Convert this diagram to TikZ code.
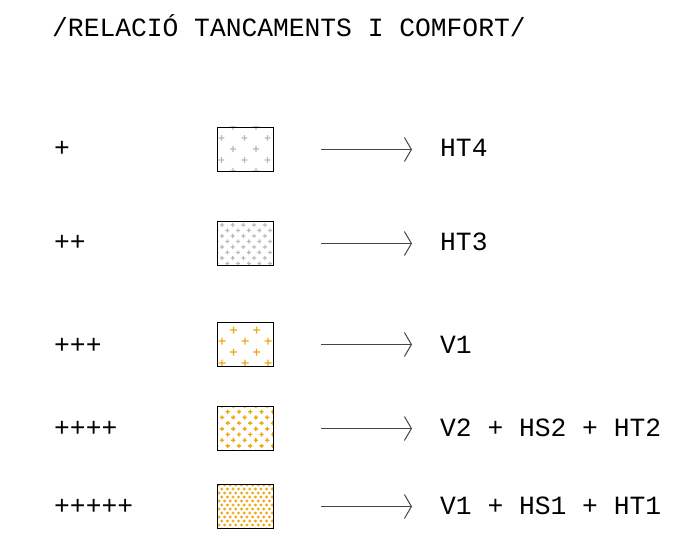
\documentclass[tikz,border=0pt]{standalone}
\usepackage{fontspec}
\setmainfont{Liberation Mono}
\usetikzlibrary{arrows.meta}
\definecolor{orng}{RGB}{236,168,20}
\definecolor{lgrey}{RGB}{185,185,185}
\definecolor{arrgrey}{RGB}{70,70,70}
\newcommand\crossfill[9]{% #1 left, #2 top, #3 colour, #4 dx, #5 dy, #6 arm, #7 x0, #8 y0, #9 half thickness
  \begin{scope}
    \clip (#1,#2) rectangle ++(56,44);
    \fill[#3]
      \foreach \j in {0,...,14}{
        \foreach \i in {-1,...,12}{
          ({#1+#7+\i*#4+mod(\j,2)*#4/2-#6},{#2+#8+\j*#5-#9}) rectangle ++(2*#6,2*#9)
          ({#1+#7+\i*#4+mod(\j,2)*#4/2-#9},{#2+#8+\j*#5-#6}) rectangle ++(2*#9,2*#6)
        }
      };
  \end{scope}}
\begin{document}
\begin{tikzpicture}[x=1bp,y=-1bp,
  txt/.style={font=\fontsize{26.3bp}{30bp}\selectfont, inner sep=0pt, anchor=base west},
  swatch/.style={draw=black, line width=1bp, minimum width=56bp, minimum height=44bp, inner sep=0pt, anchor=north west},
  arr/.style={draw=arrgrey, line width=1bp, -{Straight Barb[length=7bp,width=24bp,line width=1bp]}}]
\useasboundingbox (0,0) rectangle (696,540);
\node[txt] (title) at (52,37) {/RELACIÓ TANCAMENTS I COMFORT/};
% left labels
\node[txt] (l1) at (54,157) {+};
\node[txt] (l2) at (54,251) {++};
\node[txt] (l3) at (54,353) {+++};
\node[txt] (l4) at (54,436) {++++};
\node[txt] (l5) at (54,514) {+++++};
% right labels
\node[txt] (r1) at (440,157) {HT4};
\node[txt] (r2) at (440,251) {HT3};
\node[txt] (r3) at (440,353) {V1};
\node[txt] (r4) at (440,436) {V2 + HS2 + HT2};
\node[txt] (r5) at (440,514) {V1 + HS1 + HT1};
% swatch fills
\crossfill{217}{127}{lgrey}{23}{11}{2.8}{16}{0}{0.55}
\crossfill{217}{221}{lgrey}{10.7}{5.5}{2}{5}{4}{0.55}
\crossfill{217}{322}{orng}{23}{11}{3.5}{5}{-3}{0.7}
\crossfill{217}{406}{orng}{11.3}{5.7}{2.1}{5}{0}{0.7}
\crossfill{217}{484}{orng}{5.6}{4}{1.4}{2}{1}{0.6}
% swatch frames
\node[swatch] (s1) at (217,127) {};
\node[swatch] (s2) at (217,221) {};
\node[swatch] (s3) at (217,322) {};
\node[swatch] (s4) at (217,406) {};
\node[swatch] (s5) at (217,484) {};
% arrows
\foreach \k in {1,...,5}{
  \draw[arr, shorten <=47bp, shorten >=28bp] (s\k.east) -- (s\k.east -| r\k.west);
}
\end{tikzpicture}
\end{document}
